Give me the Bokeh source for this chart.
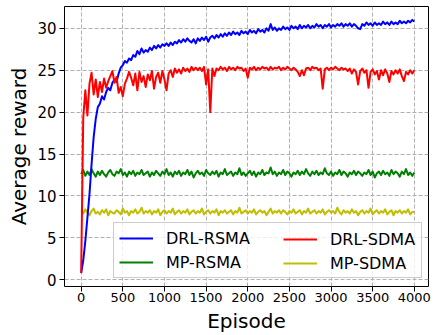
from bokeh.plotting import figure
from bokeh.models import Legend, LegendItem, Range1d, FixedTicker
from bokeh.embed import file_html
from bokeh.resources import INLINE

# Episode index (one sample every 25 episodes)
episodes = list(range(0, 4001, 25))

drl_rsma = [
    0.8, 2.3, 4.6, 7.4, 10.2, 13.8, 17.0, 19.2,
    20.6, 21.0, 21.9, 21.5, 22.4, 22.9, 22.6, 23.5,
    23.9, 23.6, 24.6, 25.3, 25.6, 26.1, 25.9, 26.4,
    26.2, 26.8, 26.6, 27.3, 26.9, 27.6, 27.1, 27.4,
    27.2, 27.7, 27.4, 27.9, 27.6, 28.0, 27.7, 28.1,
    27.9, 28.2, 27.9, 28.3, 28.0, 28.4, 28.2, 28.6,
    28.3, 28.7, 28.4, 28.8, 28.5, 28.3, 28.7, 28.2,
    28.8, 28.5, 28.9, 28.6, 29.0, 28.4, 28.9, 29.1,
    28.8, 29.2, 28.9, 29.3, 29.0, 29.4, 29.1, 29.5,
    29.2, 29.6, 29.3, 29.5, 29.2, 29.7, 29.4, 29.6,
    29.3, 29.8, 29.5, 29.7, 29.4, 29.9, 29.6, 29.8,
    29.5, 30.0, 29.7, 30.5, 29.8, 30.1, 29.7, 30.0,
    29.8, 30.2, 29.9, 30.1, 29.8, 30.3, 30.0, 30.2,
    29.9, 30.4, 30.0, 30.3, 30.1, 30.4, 30.0, 30.3,
    30.1, 30.5, 30.2, 30.4, 30.0, 30.4, 30.2, 30.5,
    30.1, 30.4, 30.2, 30.5, 30.3, 30.6, 30.2, 30.5,
    30.3, 30.6, 30.2, 30.5, 30.3, 30.0, 29.9, 30.5,
    30.3, 30.7, 30.4, 30.6, 30.3, 30.7, 30.4, 30.6,
    30.4, 30.8, 30.5, 30.7, 30.4, 30.8, 30.5, 30.7,
    30.5, 30.9, 30.6, 30.8, 30.6, 30.9, 30.7, 31.0,
    30.8,
]

drl_sdma = [
    0.8, 19.3, 22.6, 19.6, 23.4, 24.7, 22.1, 23.9,
    21.8, 23.6, 22.4, 24.0, 22.9, 23.7, 24.3, 24.9,
    23.5, 24.2, 22.3, 23.0, 21.9, 23.4, 24.0, 24.8,
    24.1, 23.2, 24.6, 22.6, 24.8, 23.6, 24.3, 23.0,
    24.5, 23.8, 24.9, 22.8, 24.2, 24.7, 23.5, 24.9,
    23.9, 22.6, 24.6, 25.0, 24.2, 25.2, 24.7, 25.1,
    24.6, 25.3, 24.9, 25.2, 24.8, 25.4, 25.0, 25.3,
    25.0, 25.3, 24.9, 25.4, 23.3, 25.1, 20.0, 25.2,
    24.3, 25.2, 25.0, 25.4, 25.1, 25.3, 24.9, 25.4,
    25.1, 25.3, 25.0, 25.4, 25.2, 25.3, 24.9, 25.2,
    24.1, 25.3, 25.1, 25.4, 25.0, 25.3, 25.1, 25.4,
    25.2, 25.3, 25.0, 25.4, 25.1, 25.3, 25.2, 25.4,
    25.0, 25.3, 25.1, 25.4, 25.2, 25.0, 25.3, 25.1,
    24.8, 24.3, 25.0, 24.4, 25.2, 25.3, 25.0, 25.4,
    25.2, 25.3, 25.0, 25.2, 22.8, 25.1, 25.3, 25.0,
    25.3, 25.1, 25.4, 25.2, 25.0, 25.3, 25.1, 25.2,
    24.9, 25.2, 24.6, 25.1, 24.8, 23.3, 24.9, 25.2,
    24.7, 25.0, 22.9, 24.8, 25.1, 24.5, 24.9, 23.9,
    25.0, 24.4, 25.1, 24.6, 23.6, 24.9, 24.5, 25.0,
    24.6, 25.1, 24.3, 23.7, 24.8, 24.5, 25.0, 24.6,
    25.0,
]

mp_rsma = [
    12.6, 13.1, 12.4, 12.9, 12.5, 13.2, 12.7, 12.3,
    12.9, 12.5, 13.0, 12.6, 12.3, 12.8, 13.1, 12.6,
    12.4, 12.9, 12.7, 13.2, 12.5, 12.8, 12.3, 12.9,
    12.6, 13.0, 12.4, 12.8, 12.6, 13.1, 12.5, 12.7,
    12.9, 12.3, 12.8, 12.5, 13.0, 12.7, 12.4, 12.9,
    12.6, 13.2, 12.5, 12.8, 12.3, 12.9, 12.6, 13.0,
    12.4, 12.8, 12.6, 13.1, 12.5, 12.9, 12.2, 12.7,
    13.0, 12.6, 12.8, 12.4, 13.1, 12.7, 12.5, 12.9,
    12.6, 13.0, 12.3, 12.8, 12.6, 13.2, 12.5, 12.7,
    12.9, 12.4, 12.8, 12.6, 13.3, 12.5, 12.8, 12.4,
    12.7, 13.0, 12.5, 12.9, 12.3, 12.8, 12.6, 13.1,
    12.5, 12.8, 12.7, 13.4, 12.6, 12.9, 12.4, 12.8,
    12.6, 13.1, 12.5, 12.9, 12.7, 12.3, 12.8, 12.6,
    13.0, 12.5, 12.9, 12.6, 13.2, 12.7, 12.4, 12.9,
    12.6, 13.0, 12.5, 12.8, 12.6, 13.3, 12.7, 12.5,
    12.9, 12.4, 12.8, 12.6, 13.1, 12.5, 12.9, 12.7,
    12.3, 12.8, 12.6, 13.0, 12.5, 12.9, 12.7, 12.4,
    12.8, 12.6, 13.1, 12.5, 12.9, 12.2, 12.7, 12.9,
    12.5, 13.0, 12.6, 12.8, 12.4, 13.1, 12.6, 12.9,
    12.7, 12.3, 12.9, 12.6, 13.2, 12.5, 12.8, 12.4,
    12.8,
]

mp_sdma = [
    8.3, 7.9, 8.4, 8.0, 7.7, 8.2, 8.5, 7.9,
    8.1, 7.8, 8.3, 8.0, 8.4, 7.7, 8.2, 8.0,
    7.9, 8.3, 8.1, 7.8, 8.5, 8.0, 8.2, 7.7,
    8.2, 8.0, 8.4, 7.9, 8.1, 8.6, 7.9, 8.2,
    8.0, 8.3, 7.8, 8.2, 8.0, 8.4, 7.7, 8.1,
    8.3, 7.9, 8.2, 8.0, 8.5, 7.8, 8.1, 8.3,
    7.9, 8.2, 8.0, 8.4, 7.8, 8.1, 8.3, 7.9,
    8.2, 8.0, 8.5, 7.8, 8.1, 8.3, 7.9, 8.2,
    8.0, 8.4, 7.7, 8.2, 8.0, 8.3, 7.9, 8.1,
    8.3, 7.8, 8.2, 8.0, 8.6, 7.9, 8.1, 8.3,
    7.9, 8.2, 8.0, 8.4, 7.8, 8.1, 8.3, 8.0,
    8.2, 7.7, 8.1, 8.5, 7.9, 8.2, 8.0, 8.3,
    7.9, 8.3, 8.1, 7.8, 8.2, 8.0, 8.4, 7.9,
    8.1, 8.3, 7.8, 8.2, 8.0, 8.5, 7.9, 8.1,
    8.3, 7.9, 8.2, 8.0, 8.4, 7.8, 8.1, 8.3,
    8.0, 8.2, 7.9, 8.6, 8.1, 7.8, 8.3, 8.0,
    8.2, 7.9, 8.4, 8.0, 8.2, 7.7, 8.1, 8.3,
    7.9, 8.2, 8.0, 8.5, 7.8, 8.1, 8.3, 7.9,
    8.2, 8.0, 8.4, 7.8, 8.1, 8.3, 7.7, 8.2,
    8.0, 8.3, 7.9, 8.2, 8.0, 8.4, 7.8, 8.1,
    8.1,
]

x_ticks = [0, 500, 1000, 1500, 2000, 2500, 3000, 3500, 4000]
y_ticks = [0, 5, 10, 15, 20, 25, 30]

FONT = "DejaVu Sans"

p = figure(width=432, height=335, output_backend="svg", toolbar_location=None,
           x_range=Range1d(-200, 4170), y_range=Range1d(-0.8, 32.6),
           min_border_left=64, min_border_right=4, min_border_top=6,
           min_border_bottom=47)

r_mp_rsma = p.line(episodes, mp_rsma, line_color="#008000", line_width=2, line_join="round")
r_mp_sdma = p.line(episodes, mp_sdma, line_color="#bfbf00", line_width=2, line_join="round")
r_drl_rsma = p.line(episodes, drl_rsma, line_color="#0000ff", line_width=2, line_join="round")
r_drl_sdma = p.line(episodes, drl_sdma, line_color="#ff0000", line_width=2, line_join="round")

p.xaxis.ticker = FixedTicker(ticks=x_ticks)
p.yaxis.ticker = FixedTicker(ticks=y_ticks)

for ax in (p.xaxis[0], p.yaxis[0]):
    ax.axis_line_color = None
    ax.major_tick_in = 0
    ax.major_tick_out = 5
    ax.major_tick_line_color = "black"
    ax.minor_tick_line_color = None
    ax.major_label_text_font = FONT
    ax.major_label_text_color = "black"
    ax.axis_label_text_font = FONT
    ax.axis_label_text_font_style = "normal"
    ax.axis_label_text_font_size = "20px"
    ax.axis_label_text_color = "black"

p.xaxis.axis_label = "Episode"
p.yaxis.axis_label = "Average reward"
p.xaxis.major_label_text_font_size = "13px"
p.yaxis.major_label_text_font_size = "15px"
p.xaxis.major_label_standoff = 1
p.yaxis.major_label_standoff = 3
p.xaxis.axis_label_standoff = 4
p.yaxis.axis_label_standoff = 3

p.grid.grid_line_color = "#b0b0b0"
p.grid.grid_line_dash = "4 2"
p.grid.grid_line_width = 1

p.outline_line_color = "black"
p.outline_line_width = 1
p.outline_line_alpha = 1

common = dict(glyph_width=34, glyph_height=20, label_height=20, label_standoff=13,
              padding=5, spacing=4, margin=0, label_text_font=FONT,
              label_text_font_size="16px", label_text_color="black",
              orientation="vertical", border_line_color="#cccccc",
              border_line_width=1)

leg_a = Legend(items=[LegendItem(label="DRL-RSMA", renderers=[r_drl_rsma]),
                      LegendItem(label="MP-RSMA", renderers=[r_mp_rsma])],
               location=(49, 8), label_width=250,
               background_fill_color="white", background_fill_alpha=0.8,
               border_line_alpha=1, **common)
leg_b = Legend(items=[LegendItem(label="DRL-SDMA", renderers=[r_drl_sdma]),
                      LegendItem(label="MP-SDMA", renderers=[r_mp_sdma])],
               location=(214, 8), label_width=86,
               background_fill_alpha=0, border_line_alpha=0, **common)
p.add_layout(leg_a)
p.add_layout(leg_b)

open("out.html", "w").write(file_html(p, INLINE))
